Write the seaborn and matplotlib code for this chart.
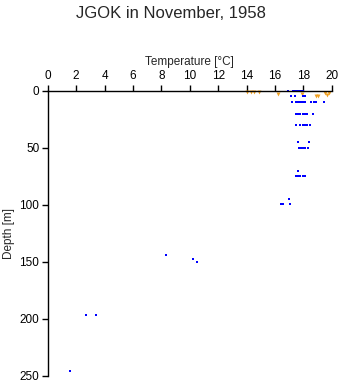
import matplotlib
matplotlib.use("Agg")
import matplotlib.pyplot as plt
import seaborn as sns
import pandas as pd

# Blue cast (temperature °C, depth m)
blue_temp = [16.95, 17.25, 17.4, 17.55, 17.7, 17.85, 17.95,
             17.1, 17.45, 18.0, 18.1,
             17.2, 17.5, 17.6, 17.75, 17.9, 18.05, 18.15, 18.55, 18.75, 18.9, 19.45,
             17.5, 17.65, 17.8, 17.95, 18.1, 18.25, 18.65,
             17.5, 17.8, 17.95, 18.1, 18.25, 18.45,
             17.6, 18.4,
             17.7, 17.85, 18.0, 18.15, 18.35,
             17.65,
             17.5, 17.65, 17.8, 17.95, 18.15,
             17.0,
             16.4, 16.55, 17.05,
             8.3, 10.2, 10.5,
             2.72, 3.42,
             1.54]
blue_depth = [0, 0, 0, 0, 0, 0, 0,
              5, 5, 5, 5,
              10, 10, 10, 10, 10, 10, 10, 10, 10, 10, 10,
              20, 20, 20, 20, 20, 20, 20,
              30, 30, 30, 30, 30, 30,
              45, 45,
              50, 50, 50, 50, 50,
              70,
              75, 75, 75, 75, 75,
              95,
              99, 99, 99,
              144, 148, 150,
              197, 197,
              246]

# Orange cast
orange_temp = [14.0, 14.3, 14.5, 14.85, 16.2, 17.9, 18.9, 19.05, 19.5, 19.8, 19.65]
orange_depth = [1, 1, 1, 1, 3, 3, 5, 5, 2, 2, 4]

df_blue = pd.DataFrame({"temp": blue_temp, "depth": blue_depth})
df_orange = pd.DataFrame({"temp": orange_temp, "depth": orange_depth})

sns.set_style("white")
plt.rcParams['font.family'] = ['Liberation Sans', 'DejaVu Sans']

fig = plt.figure(figsize=(3.41, 3.84), dpi=100)
ax = fig.add_axes([0.14, 0.0216, 0.8327, 0.7422])

sns.scatterplot(data=df_orange, x="temp", y="depth", ax=ax, marker="v",
                color="#f0a020", s=8, linewidth=0, edgecolor=None, clip_on=False)
sns.scatterplot(data=df_blue, x="temp", y="depth", ax=ax, marker="s",
                color="#0000ff", s=4.5, linewidth=0, edgecolor=None, clip_on=False)

ax.set_xlim(0, 20)
ax.set_ylim(250, 0)
ax.xaxis.tick_top()
ax.xaxis.set_label_position("top")
ax.set_xticks(range(0, 21, 2))
ax.set_yticks([0, 50, 100, 150, 200, 250])
ax.tick_params(axis="both", labelsize=8.5, length=4, width=1, direction="out",
               colors="black", pad=2)
ax.tick_params(axis="x", top=True, bottom=False)
ax.tick_params(axis="y", left=True)
for side in ["right", "bottom"]:
    ax.spines[side].set_visible(False)
for side in ["top", "left"]:
    ax.spines[side].set_visible(True)
    ax.spines[side].set_color("black")
    ax.spines[side].set_linewidth(1)
ax.set_xlabel("Temperature [°C]", fontsize=8.5, labelpad=4)
ax.set_ylabel("Depth [m]", fontsize=8.5, labelpad=3)
fig.suptitle("JGOK in November, 1958", fontsize=12, y=0.985)

fig.savefig("out.png", dpi=100)
